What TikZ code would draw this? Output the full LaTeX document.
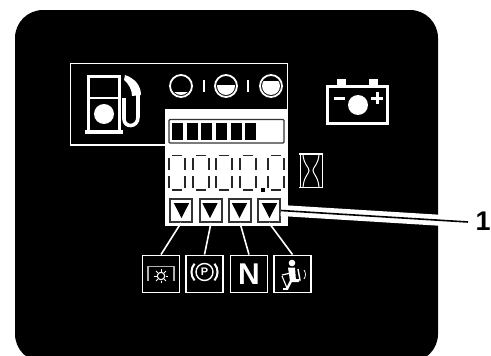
\documentclass[tikz,border=0pt]{standalone}
\usepackage{fontspec}
\setmainfont{Liberation Sans}
\usetikzlibrary{positioning,calc}

\begin{document}
\begin{tikzpicture}[
    x=1pt, y=-1pt,
    button/.style={rectangle, minimum width=22pt, minimum height=23pt, inner sep=0pt, draw=black!80, fill=white, line width=1.8pt},
    iconbox/.style={rectangle, minimum width=37pt, minimum height=37pt, inner sep=0pt, draw=white, fill=black, line width=1.9pt, text=white},
    gauge/.style={circle, minimum size=22pt, inner sep=0pt, draw=white, line width=1.8pt},
    link/.style={draw=white, line width=1.6pt},
    seg/.style={draw=black!85, line width=1.3pt},
    whiteline/.style={draw=white, line width=1pt},
]
\useasboundingbox (0,0) rectangle (491,356);
\fill[white] (0,0) rectangle (491,356);
\fill[black, rounded corners=28pt] (15,10) rectangle (438,362);

% fuel frame
\draw[white, line width=1.6pt] (165,145) -- (70.5,145) -- (70.5,63.5) -- (287.5,63.5) -- (287.5,109);

% pump
\draw[white, line width=3pt] (88.5,131) -- (88.5,76.5) -- (119,76.5) -- (119,131);
\draw[white, line width=2pt] (89,98) -- (119,98);
\fill[white] (85,129.5) rectangle (123,133.5);
\fill[white] (104,114) circle (10);
\fill[white] (125,75) .. controls (134,78) and (141,85) .. (141,95) -- (132,96) .. controls (132,90) and (129,84) .. (124,80) -- cycle;
\draw[white, line width=3.6pt] (122,100) -- (124,100) -- (124,119) .. controls (124,128) and (138,128) .. (138,117) -- (138,94);

% gauges
\foreach \gx/\gy in {181/92,226/85,271/80.5} {
    \begin{scope}
    \clip (\gx,86) circle (9);
    \fill[white] (\gx-10,\gy) rectangle (\gx+10,97);
    \end{scope}
}
\node[gauge] (g1) at (181,86) {};
\node[gauge] (g2) at (226,86) {};
\node[gauge] (g3) at (271,86) {};
\fill[white] (203.3,80) rectangle (205,92);
\fill[white] (247.3,80) rectangle (249,92);

% battery
\draw[white, line width=3.4pt] (327.7,86.7) rectangle (387.3,123.3);
\fill[white] (337,79) rectangle (346,86);
\fill[white] (369,79) rectangle (378,86);
\fill[white] (358,105) circle (10);
\fill[white] (334,97) rectangle (345,100);
\fill[white] (371,96.5) rectangle (383,99.5);
\fill[white] (375.5,92) rectangle (378.5,104);

% hourglass
\draw[white, line width=0.6pt] (300,154) rectangle (322,187);
\draw[white, line width=1.4pt] (299,154) -- (323,154) (299,187.5) -- (323,187.5);
\draw[whiteline] (303,155) .. controls (304,165) and (309,167) .. (309,170.5) .. controls (309,174) and (304,176) .. (303,187);
\draw[whiteline] (319,155) .. controls (318,165) and (313,167) .. (313,170.5) .. controls (313,174) and (318,176) .. (319,187);

% display panel
\fill[white] (165,109) rectangle (288,226);
\draw[black!80, line width=1.4pt, rounded corners=1pt] (169,119.5) rectangle (284,143);
\foreach \bx in {172,186.7,201.3,216,230.7,245} {
    \fill[black] (\bx,123) rectangle (\bx+11,140);
}
\foreach \dx in {169,193,216,240,268} {
    \draw[seg] (\dx+3,155.5) -- (\dx+13,155.5) (\dx+3,190) -- (\dx+13,190);
    \draw[seg] (\dx,158) -- (\dx,170) (\dx,176) -- (\dx,187.5);
    \draw[seg] (\dx+16,158) -- (\dx+16,170) (\dx+16,176) -- (\dx+16,187.5);
}
\fill[black] (261,188) rectangle (265,192);

% buttons
\node[button] (btn1) at (181,210.5) {};
\node[button] (btn2) at (211,210.5) {};
\node[button] (btn3) at (240,210.5) {};
\node[button] (btn4) at (269,210.5) {};
\foreach \tx in {181.5,210,239.5,269.5} {
    \fill[black] (\tx-7.7,203) -- (\tx+7.7,203) -- (\tx,218) -- cycle;
}

% icons
\node[iconbox] (icon1) at (161,274) {};
\node[iconbox] (icon2) at (204.5,274) {};
\node[iconbox, font=\bfseries\fontsize{30}{30}\selectfont] (icon3) at (249,274) {N};
\node[iconbox] (icon4) at (292.5,274) {};

\draw[link] (btn1.south) -- (icon1.north);
\draw[link] (btn2.south) -- (icon2.north);
\draw[link] (btn3.south) -- (icon3.north);
\draw[link] (btn4.south) -- (icon4.north);

% sun icon
\draw[white!70!black, line width=1.4pt] (148,281) -- (148,266.5) -- (174,266.5) -- (174,281);
\draw[white, line width=1.1pt] (161,276) circle (3.7);
\foreach \ang in {0,45,...,315} {
    \draw[white, line width=1pt] ($(161,276)+(\ang:4.5)$) -- ($(161,276)+(\ang:7)$);
}

% park icon
\node[circle, draw=white, line width=1.4pt, minimum size=17pt, inner sep=0pt, text=white, font=\bfseries\fontsize{11}{11}\selectfont] (park) at (204.5,272) {P};
\draw[white, line width=2pt] (194.5,280.4) arc (140:220:13);
\draw[white, line width=2pt] (214.5,280.4) arc (40:-40:13);

% seat icon
\fill[white] (292,263) circle (3.3);
\fill[white] (288,267.5) -- (295,267.5) -- (296,281) -- (290,281) -- cycle;
\fill[white] (290,279) -- (299,279) -- (299,282) -- (291,282) -- cycle;
\draw[white, line width=2.4pt] (291,281) -- (287,289);
\draw[white, line width=1.4pt] (283,289) -- (288,289);
\draw[white, line width=1.2pt] (282,275) -- (291,273);
\draw[white, line width=1.1pt] (282,276) -- (287,288);
\draw[white, line width=1.4pt] (298,269) -- (300,280) -- (295,280);
\draw[white, line width=0.7pt] (304,270) .. controls (306,273) and (306,276) .. (304,279);

% leader
\coordinate (leadend) at (468,222);
\draw[white, line width=11pt] (btn4.east) -- (leadend);
\draw[black, line width=1.6pt] (btn4.east) -- (leadend);
\node[font=\bfseries\fontsize{27}{27}\selectfont, anchor=west, inner sep=0pt] (lab1) at (475.5,221) {1};
\end{tikzpicture}
\end{document}
